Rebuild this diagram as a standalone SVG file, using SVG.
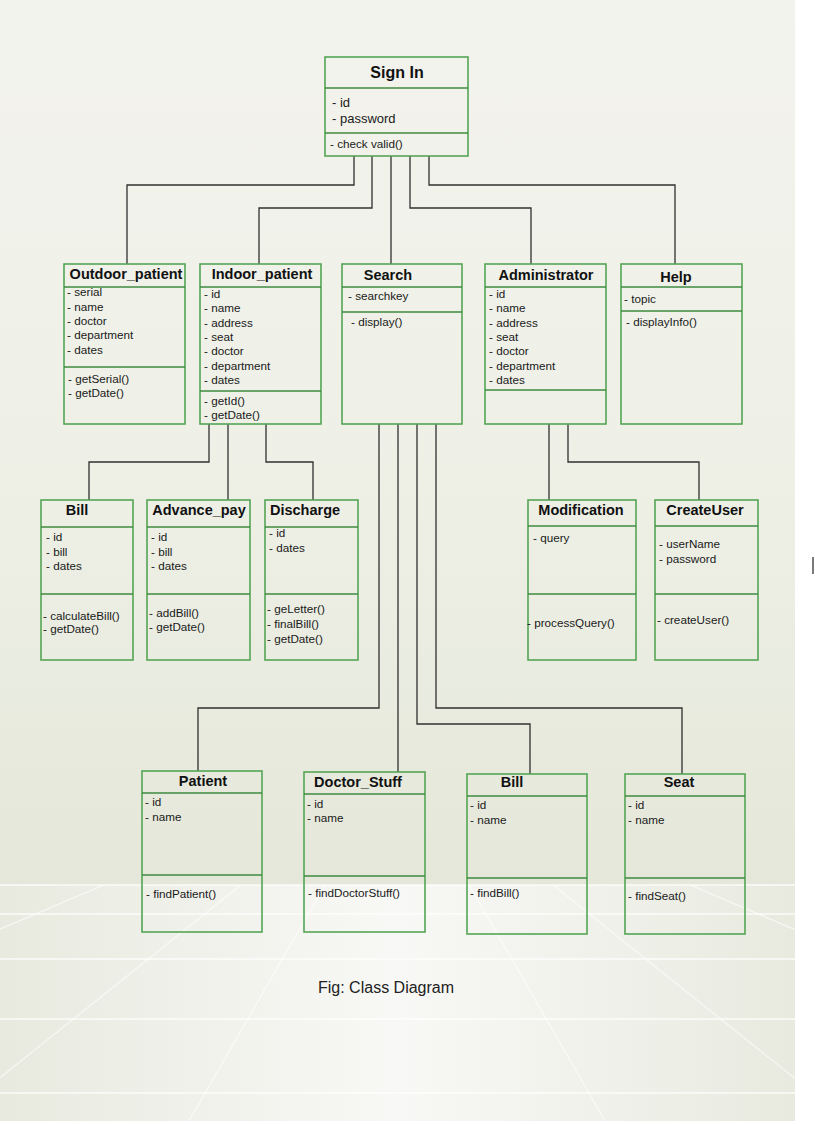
<svg xmlns="http://www.w3.org/2000/svg" width="815" height="1124" viewBox="0 0 815 1124">
  <defs>
    <linearGradient id="wall" x1="0" y1="0" x2="0" y2="1">
      <stop offset="0" stop-color="#f3f3ed"/>
      <stop offset="0.55" stop-color="#eef0e6"/>
      <stop offset="1" stop-color="#e4e7d9"/>
    </linearGradient>
    <linearGradient id="floor" x1="0" y1="0" x2="1" y2="0">
      <stop offset="0" stop-color="#e8eadf"/>
      <stop offset="0.5" stop-color="#f8f8f6"/>
      <stop offset="1" stop-color="#e8eadf"/>
    </linearGradient>
    <clipPath id="floorClip">
      <rect x="0" y="885" width="795" height="236"/>
    </clipPath>
    <style>
      .box { fill: none; stroke: #55a555; stroke-width: 1.6; }
      .sep { stroke: #3f8a3f; stroke-width: 1.4; }
      .conn { fill: none; stroke: #303030; stroke-width: 1.3; }
      .title { font-family: "Liberation Sans", Arial, sans-serif; font-weight: bold; font-size: 14.5px; fill: #111; text-anchor: middle; }
      .big { font-size: 16px; }
      .t { font-family: "Liberation Sans", Arial, sans-serif; font-size: 11.7px; fill: #1a1a1a; }
      .t13 { font-size: 13px; }
      .grid { stroke: #ffffff; stroke-width: 1.4; opacity: 0.85; }
      .ray { stroke: #ffffff; stroke-width: 1.1; opacity: 0.7; }
    </style>
  </defs>

  <!-- backdrop: wall gradient and perspective floor -->
  <rect x="0" y="0" width="815" height="1124" fill="#ffffff"/>
  <rect x="0" y="0" width="795" height="885" fill="url(#wall)"/>
  <rect x="0" y="885" width="795" height="236" fill="url(#floor)"/>
  <g clip-path="url(#floorClip)">
    <line class="ray" x1="397" y1="760" x2="-1100" y2="1121"/>
    <line class="ray" x1="397" y1="760" x2="-450" y2="1121"/>
    <line class="ray" x1="397" y1="760" x2="-54" y2="1121"/>
    <line class="ray" x1="397" y1="760" x2="189" y2="1121"/>
    <line class="ray" x1="397" y1="760" x2="605" y2="1121"/>
    <line class="ray" x1="397" y1="760" x2="848" y2="1121"/>
    <line class="ray" x1="397" y1="760" x2="1244" y2="1121"/>
    <line class="ray" x1="397" y1="760" x2="1894" y2="1121"/>
  </g>
  <line class="grid" x1="0" y1="885" x2="795" y2="885"/>
  <line class="grid" x1="0" y1="914" x2="795" y2="914"/>
  <line class="grid" x1="0" y1="959" x2="795" y2="959"/>
  <line class="grid" x1="0" y1="1019" x2="795" y2="1019"/>
  <line class="grid" x1="0" y1="1093" x2="795" y2="1093"/>
  <line x1="813" y1="557" x2="813" y2="574" stroke="#222" stroke-width="1.2"/>

  <!-- associations -->
  <g id="connectors">
    <polyline class="conn" points="354,156 354,185 127,185 127,264"/>
    <polyline class="conn" points="372,156 372,208 259,208 259,264"/>
    <polyline class="conn" points="391,156 391,264"/>
    <polyline class="conn" points="410,156 410,208 531,208 531,264"/>
    <polyline class="conn" points="429,156 429,185 675,185 675,264"/>

    <polyline class="conn" points="209,424 209,462 89,462 89,500"/>
    <polyline class="conn" points="228,424 228,500"/>
    <polyline class="conn" points="266,424 266,462 313,462 313,500"/>

    <polyline class="conn" points="549,424 549,500"/>
    <polyline class="conn" points="568,424 568,462 699,462 699,500"/>

    <polyline class="conn" points="379,424 379,708 198,708 198,771"/>
    <polyline class="conn" points="398,424 398,772"/>
    <polyline class="conn" points="417,424 417,724 530,724 530,774"/>
    <polyline class="conn" points="436,424 436,708 682,708 682,774"/>
  </g>

  <g id="signin">
    <rect class="box" x="325" y="57" width="143" height="99"/>
    <line class="sep" x1="325" y1="88" x2="468" y2="88"/>
    <line class="sep" x1="325" y1="133" x2="468" y2="133"/>
    <text class="title big" x="397" y="78">Sign In</text>
    <text class="t t13" x="332" y="107">- id</text>
    <text class="t t13" x="332" y="123">- password</text>
    <text class="t" x="330" y="148">- check valid()</text>
  </g>

  <g id="outdoor_patient">
    <rect class="box" x="64" y="264" width="121" height="160"/>
    <line class="sep" x1="64" y1="287" x2="185" y2="287"/>
    <line class="sep" x1="64" y1="367" x2="185" y2="367"/>
    <text class="title" x="126" y="279">Outdoor_patient</text>
    <text class="t" x="67" y="296">- serial</text>
    <text class="t" x="67" y="311">- name</text>
    <text class="t" x="67" y="325">- doctor</text>
    <text class="t" x="67" y="339">- department</text>
    <text class="t" x="67" y="354">- dates</text>
    <text class="t" x="68" y="383">- getSerial()</text>
    <text class="t" x="68" y="397">- getDate()</text>
  </g>

  <g id="indoor_patient">
    <rect class="box" x="200" y="264" width="121" height="160"/>
    <line class="sep" x1="200" y1="287" x2="321" y2="287"/>
    <line class="sep" x1="200" y1="391" x2="321" y2="391"/>
    <text class="title" x="262" y="279">Indoor_patient</text>
    <text class="t" x="204" y="298">- id</text>
    <text class="t" x="204" y="312">- name</text>
    <text class="t" x="204" y="327">- address</text>
    <text class="t" x="204" y="341">- seat</text>
    <text class="t" x="204" y="355">- doctor</text>
    <text class="t" x="204" y="370">- department</text>
    <text class="t" x="204" y="384">- dates</text>
    <text class="t" x="204" y="405">- getId()</text>
    <text class="t" x="204" y="419">- getDate()</text>
  </g>

  <g id="search">
    <rect class="box" x="342" y="264" width="120" height="160"/>
    <line class="sep" x1="342" y1="287" x2="462" y2="287"/>
    <line class="sep" x1="342" y1="312" x2="462" y2="312"/>
    <text class="title" x="388" y="280">Search</text>
    <text class="t" x="348" y="300">- searchkey</text>
    <text class="t" x="351" y="326">- display()</text>
  </g>

  <g id="administrator">
    <rect class="box" x="485" y="264" width="121" height="160"/>
    <line class="sep" x1="485" y1="287" x2="606" y2="287"/>
    <line class="sep" x1="485" y1="390" x2="606" y2="390"/>
    <text class="title" x="546" y="280">Administrator</text>
    <text class="t" x="489" y="298">- id</text>
    <text class="t" x="489" y="312">- name</text>
    <text class="t" x="489" y="327">- address</text>
    <text class="t" x="489" y="341">- seat</text>
    <text class="t" x="489" y="355">- doctor</text>
    <text class="t" x="489" y="370">- department</text>
    <text class="t" x="489" y="384">- dates</text>
  </g>

  <g id="help">
    <rect class="box" x="621" y="264" width="121" height="160"/>
    <line class="sep" x1="621" y1="287" x2="742" y2="287"/>
    <line class="sep" x1="621" y1="311" x2="742" y2="311"/>
    <text class="title" x="676" y="282">Help</text>
    <text class="t" x="624" y="303">- topic</text>
    <text class="t" x="626" y="326">- displayInfo()</text>
  </g>

  <g id="bill">
    <rect class="box" x="41" y="500" width="92" height="160"/>
    <line class="sep" x1="41" y1="527" x2="133" y2="527"/>
    <line class="sep" x1="41" y1="594" x2="133" y2="594"/>
    <text class="title" x="77" y="515">Bill</text>
    <text class="t" x="46" y="541">- id</text>
    <text class="t" x="46" y="556">- bill</text>
    <text class="t" x="46" y="570">- dates</text>
    <text class="t" x="43" y="620">- calculateBill()</text>
    <text class="t" x="43" y="633">- getDate()</text>
  </g>

  <g id="advance_pay">
    <rect class="box" x="147" y="500" width="103" height="160"/>
    <line class="sep" x1="147" y1="527" x2="250" y2="527"/>
    <line class="sep" x1="147" y1="594" x2="250" y2="594"/>
    <text class="title" x="199" y="515">Advance_pay</text>
    <text class="t" x="151" y="541">- id</text>
    <text class="t" x="151" y="556">- bill</text>
    <text class="t" x="151" y="570">- dates</text>
    <text class="t" x="149" y="617">- addBill()</text>
    <text class="t" x="149" y="631">- getDate()</text>
  </g>

  <g id="discharge">
    <rect class="box" x="265" y="500" width="93" height="160"/>
    <line class="sep" x1="265" y1="527" x2="358" y2="527"/>
    <line class="sep" x1="265" y1="594" x2="358" y2="594"/>
    <text class="title" x="305" y="515">Discharge</text>
    <text class="t" x="269" y="537">- id</text>
    <text class="t" x="269" y="552">- dates</text>
    <text class="t" x="267" y="613">- geLetter()</text>
    <text class="t" x="267" y="628">- finalBill()</text>
    <text class="t" x="267" y="643">- getDate()</text>
  </g>

  <g id="modification">
    <rect class="box" x="528" y="500" width="108" height="160"/>
    <line class="sep" x1="528" y1="526" x2="636" y2="526"/>
    <line class="sep" x1="528" y1="594" x2="636" y2="594"/>
    <text class="title" x="581" y="515">Modification</text>
    <text class="t" x="533" y="542">- query</text>
    <text class="t" x="527" y="627">- processQuery()</text>
  </g>

  <g id="createuser">
    <rect class="box" x="655" y="500" width="103" height="160"/>
    <line class="sep" x1="655" y1="526" x2="758" y2="526"/>
    <line class="sep" x1="655" y1="594" x2="758" y2="594"/>
    <text class="title" x="705" y="515">CreateUser</text>
    <text class="t" x="659" y="548">- userName</text>
    <text class="t" x="659" y="563">- password</text>
    <text class="t" x="657" y="624">- createUser()</text>
  </g>

  <g id="patient">
    <rect class="box" x="142" y="771" width="120" height="161"/>
    <line class="sep" x1="142" y1="793" x2="262" y2="793"/>
    <line class="sep" x1="142" y1="875" x2="262" y2="875"/>
    <text class="title" x="203" y="786">Patient</text>
    <text class="t" x="145" y="806">- id</text>
    <text class="t" x="145" y="821">- name</text>
    <text class="t" x="146" y="898">- findPatient()</text>
  </g>

  <g id="doctor_stuff">
    <rect class="box" x="304" y="772" width="121" height="160"/>
    <line class="sep" x1="304" y1="794" x2="425" y2="794"/>
    <line class="sep" x1="304" y1="876" x2="425" y2="876"/>
    <text class="title" x="358" y="787">Doctor_Stuff</text>
    <text class="t" x="307" y="808">- id</text>
    <text class="t" x="307" y="822">- name</text>
    <text class="t" x="308" y="897">- findDoctorStuff()</text>
  </g>

  <g id="bill_search">
    <rect class="box" x="467" y="774" width="120" height="160"/>
    <line class="sep" x1="467" y1="796" x2="587" y2="796"/>
    <line class="sep" x1="467" y1="878" x2="587" y2="878"/>
    <text class="title" x="512" y="787">Bill</text>
    <text class="t" x="470" y="809">- id</text>
    <text class="t" x="470" y="824">- name</text>
    <text class="t" x="470" y="897">- findBill()</text>
  </g>

  <g id="seat">
    <rect class="box" x="625" y="774" width="120" height="160"/>
    <line class="sep" x1="625" y1="796" x2="745" y2="796"/>
    <line class="sep" x1="625" y1="878" x2="745" y2="878"/>
    <text class="title" x="679" y="787">Seat</text>
    <text class="t" x="628" y="809">- id</text>
    <text class="t" x="628" y="824">- name</text>
    <text class="t" x="628" y="900">- findSeat()</text>
  </g>

  <text x="318" y="993" font-family="'Liberation Sans', Arial, sans-serif" font-size="16" fill="#222">Fig: Class Diagram</text>
</svg>
